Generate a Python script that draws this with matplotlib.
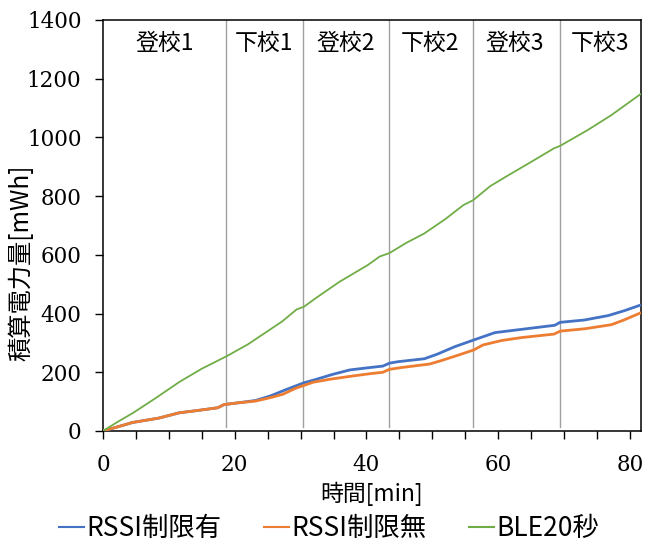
import matplotlib
matplotlib.use("Agg")
import matplotlib.pyplot as plt
from matplotlib.ticker import MultipleLocator

# ---- data ----
t_blue = [0, 1.9, 4.5, 8.5, 11.6, 14.1, 17.4, 18.4, 20.2, 23.2, 25.5, 27.8, 30.5, 32.4,
          34.9, 37.5, 40.5, 42.5, 43.5, 44.8, 48.8, 50.8, 53.4, 56.3, 59.5, 63.5, 68.6,
          69.4, 73.1, 76.7, 79.2, 81.5]
blue = [0, 12, 29, 44, 62, 69, 79, 90, 95, 104, 120, 141, 164, 176,
        193, 208, 216, 221, 231, 236, 246, 262, 287, 310, 335, 346, 360,
        370, 378, 393, 410, 428]

t_orange = [0, 1.9, 4.5, 8.5, 11.6, 14.1, 17.4, 18.4, 20.2, 23.2, 25.5, 27.3, 29.3, 30.5,
            31.9, 34.4, 37.5, 40.5, 42.5, 43.5, 45.3, 49.6, 51.4, 53.9, 56.3, 57.7, 60.5,
            63.5, 68.5, 69.4, 73.1, 77.2, 79.2, 81.5]
orange = [0, 12, 29, 44, 62, 69, 79, 90, 95, 102, 114, 125, 146, 155,
          166, 176, 186, 195, 200, 210, 216, 228, 240, 258, 276, 293, 308,
          318, 330, 340, 348, 362, 379, 401]

t_green = [0, 2.3, 4.6, 8, 11.6, 15, 18.8, 22, 25, 27.2, 29.4, 30.5, 32.6, 35.9, 40.2,
           42, 43.5, 46, 48.8, 52.0, 54.7, 56.2, 58.8, 61.4, 65.5, 68.5, 69.4, 73.6,
           77.2, 79.8, 81.6]
green = [0, 32, 62, 112, 167, 212, 255, 295, 340, 373, 414, 423, 457, 508, 565,
         594, 606, 640, 673, 722, 769, 786, 834, 869, 923, 963, 971, 1025,
         1076, 1118, 1147]

series_names = ["RSSI制限有", "RSSI制限無", "BLE20秒"]
segment_bounds = [18.7, 30.4, 43.5, 56.2, 69.4]
segment_labels = ["登校1", "下校1", "登校2", "下校2", "登校3", "下校3"]
segment_label_x = [9.4, 24.4, 36.9, 49.6, 62.5, 75.4]
x_ticks = [0, 20, 40, 60, 80]
y_ticks = [0, 200, 400, 600, 800, 1000, 1200, 1400]

# ---- plot ----
jp = ["Noto Sans CJK JP", "DejaVu Sans"]
plt.rcParams['font.family'] = jp

fig = plt.figure(figsize=(6.46, 5.43), dpi=100)
ax = fig.add_axes([0.1594, 0.2063, 0.833, 0.757])

for xb in segment_bounds:
    ax.plot([xb, xb], [12, 1400], color="#A0A0A0", lw=1.0, zorder=1)

ax.plot(t_blue, blue, color="#4472C4", lw=2.0, label=series_names[0], zorder=3)
ax.plot(t_orange, orange, color="#ED7D31", lw=2.0, label=series_names[1], zorder=3)
ax.plot(t_green, green, color="#70AD47", lw=1.3, label=series_names[2], zorder=3)

for lx, lab in zip(segment_label_x, segment_labels):
    ax.text(lx, 1320, lab, ha="center", va="center", fontsize=16.5, family=jp)

ax.set_xlim(0, 81.7)
ax.set_ylim(0, 1400)
ax.set_xticks(x_ticks)
ax.set_yticks(y_ticks)
ax.xaxis.set_minor_locator(MultipleLocator(5))
ax.tick_params(axis="both", which="both", direction="out", length=5.5, width=1.0, color="black")
for lbl in ax.get_xticklabels() + ax.get_yticklabels():
    lbl.set_family("DejaVu Serif")
    lbl.set_fontsize(15.5)
ax.tick_params(axis="x", pad=11)
ax.tick_params(axis="y", pad=10)
for s in ax.spines.values():
    s.set_linewidth(1.1)
    s.set_color("black")

ax.set_xlabel("時間[min]", fontsize=16.5, labelpad=4)
ax.set_ylabel("積算電力量[mWh]", fontsize=17.5)
ax.yaxis.set_label_coords(-0.128, 0.41)

leg = fig.legend(loc="center", bbox_to_anchor=(0.509, 0.026), ncol=3, frameon=False,
                 fontsize=19, handlelength=0.95, handletextpad=0.1, columnspacing=1.6)
for h in leg.get_lines():
    h.set_linewidth(1.5)

fig.savefig("out.png", dpi=100)
